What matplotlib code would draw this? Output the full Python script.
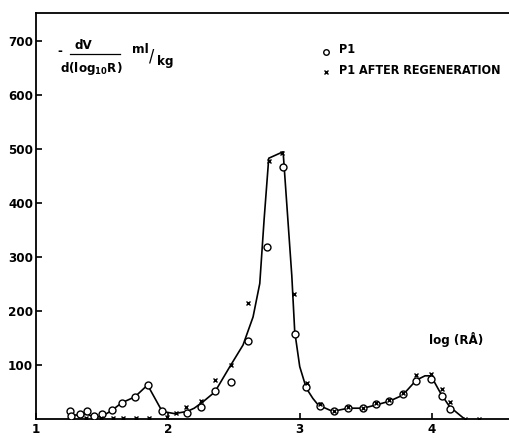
import matplotlib
matplotlib.use('Agg')
import matplotlib.pyplot as plt

# P1 (open circles)
p1_x = [1.258, 1.262, 1.333, 1.39, 1.442, 1.497, 1.573, 1.654, 1.75, 1.846, 1.957,
        2.146, 2.255, 2.356, 2.477, 2.608, 2.748, 2.874, 2.962, 3.045, 3.152, 3.258,
        3.366, 3.48, 3.58, 3.68, 3.78, 3.884, 3.992, 4.08, 4.136]
p1_y = [14, 5, 10, 14, 5, 9, 16, 30, 41, 63, 14,
        12, 23, 52, 69, 145, 318, 467, 157, 59, 24, 15,
        21, 21, 27, 34, 46, 70, 75, 43, 18]

# P1 after regeneration (crosses)
reg_x = [1.38, 1.49, 1.585, 1.657, 1.755, 1.856, 1.99, 2.058, 2.141, 2.255, 2.356,
         2.477, 2.608, 2.765, 2.869, 2.957, 3.055, 3.152, 3.258, 3.366, 3.48, 3.58,
         3.68, 3.78, 3.884, 3.992, 4.08, 4.136, 4.25, 4.357]
reg_y = [2, 2, 2, 2, 2, 2, 4, 11, 23, 34, 73,
         100, 215, 478, 492, 232, 67, 28, 15, 23, 21, 29,
         36, 48, 82, 84, 55, 31, 0, 0]

# hand drawn curve
curve_x = [1.26, 1.33, 1.39, 1.44, 1.50, 1.57, 1.65, 1.75, 1.846, 1.957, 2.05, 2.146,
           2.20, 2.267, 2.356, 2.47, 2.57, 2.646, 2.697, 2.73, 2.765, 2.874,
           2.94, 2.962, 3.0, 3.05, 3.1, 3.14, 3.25, 3.366, 3.48, 3.58, 3.68, 3.78,
           3.884, 3.95, 3.995, 4.07, 4.136, 4.25]
curve_y = [8, 7, 9, 3, 5, 15, 30, 41, 63, 14, 10, 14,
           20, 32, 50, 97, 137, 189, 251, 370, 483, 495,
           265, 162, 97, 57, 38, 26, 14, 20, 20, 26, 33, 44,
           72, 80, 80, 47, 23, 0]

x_ticks = [1, 2, 3, 4]
y_ticks = [100, 200, 300, 400, 500, 600, 700]

plt.rcParams['font.family'] = ['Liberation Sans Narrow', 'DejaVu Sans']
plt.rcParams['font.weight'] = 'bold'
plt.rcParams['font.stretch'] = 'condensed'
plt.rcParams['mathtext.fontset'] = 'dejavusans'
plt.rcParams['mathtext.default'] = 'bf'

fs = 9.5

fig = plt.figure(figsize=(5.09, 4.38), dpi=100)
ax = fig.add_axes([36 / 509, 19 / 438, 473 / 509, 406 / 438])

ax.plot(curve_x, curve_y, color='black', lw=1.2, zorder=2)
ax.plot(p1_x, p1_y, 'o', ms=5, mfc='white', mec='black', mew=1.0, zorder=3)
ax.plot(reg_x, reg_y, 'x', ms=3, color='black', mew=1.0, zorder=4)

ax.set_xlim(1.0, 4.587)
ax.set_ylim(0, 752)
ax.set_xticks(x_ticks)
ax.set_yticks(y_ticks)
ax.set_xticklabels([str(t) for t in x_ticks], fontsize=fs, fontweight='bold')
ax.set_yticklabels([str(t) for t in y_ticks], fontsize=fs, fontweight='bold')
ax.tick_params(direction='in', length=4, width=1.2)
ax.tick_params(axis='x', pad=3)
ax.tick_params(axis='y', pad=2)
ax.spines['right'].set_visible(False)
for s in ['left', 'bottom', 'top']:
    ax.spines[s].set_linewidth(1.3)

# y quantity label
tr = ax.transAxes
ax.text(0.051, 0.904, '-', transform=tr, fontsize=fs, ha='center', va='center')
ax.text(0.100, 0.920, 'dV', transform=tr, fontsize=fs, ha='center', va='center')
ax.plot([0.072, 0.178], [0.898, 0.898], transform=tr, color='black', lw=0.9)
ax.text(0.117, 0.864, r'd(log$_{10}$R)', transform=tr, fontsize=fs,
        ha='center', va='center')
ax.text(0.203, 0.910, 'ml', transform=tr, fontsize=fs, ha='left', va='center')
ax.text(0.239, 0.893, '/', transform=tr, fontsize=fs + 3, ha='left', va='center',
        fontweight='normal')
ax.text(0.256, 0.880, 'kg', transform=tr, fontsize=fs, ha='left', va='center')

# legend
ax.plot([0.614], [0.904], 'o', ms=4, mfc='white', mec='black', transform=tr)
ax.text(0.640, 0.909, 'P1', transform=tr, fontsize=9, ha='left', va='center')
ax.plot([0.614], [0.855], 'x', ms=3, color='black', transform=tr)
ax.text(0.640, 0.858, 'P1 AFTER REGENERATION', transform=tr, fontsize=9,
        ha='left', va='center')

ax.text(0.888, 0.195, 'log (RÅ)', transform=tr, fontsize=fs, ha='center',
        va='center')

fig.savefig('out.png', dpi=100)
